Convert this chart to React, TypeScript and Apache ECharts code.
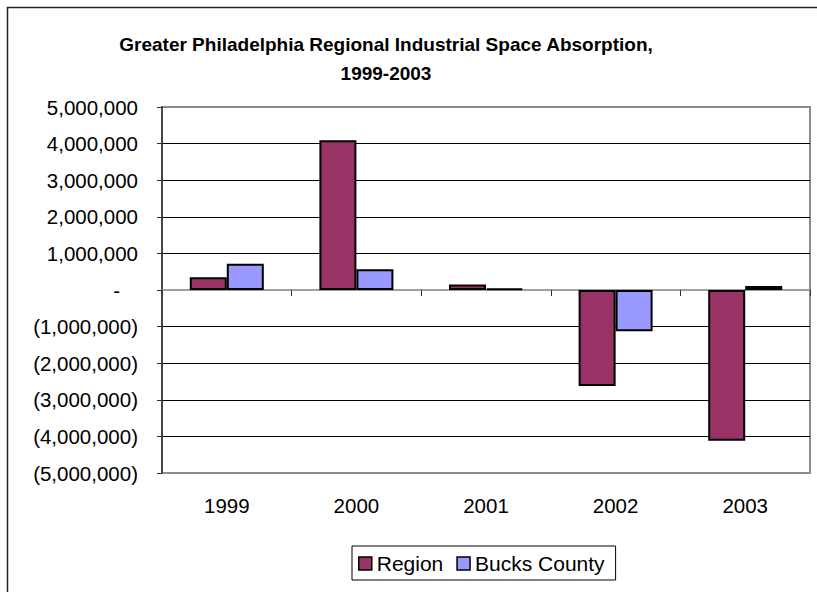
import React, { useEffect, useRef } from "react";
import * as echarts from "echarts";

const categories = ["1999", "2000", "2001", "2002", "2003"];
const regionValues = [350000, 4090000, 150000, -2620000, -4120000];
const bucksValues = [720000, 570000, 40000, -1130000, 110000];
const seriesNames = ["Region", "Bucks County"];
const titleLines = ["Greater Philadelphia Regional Industrial Space Absorption,", "1999-2003"];

const FONT = "'Liberation Sans', Arial, sans-serif";

function fmt(v: number): string {
  const s = Math.abs(v).toString().replace(/\B(?=(\d{3})+(?!\d))/g, ",");
  if (v === 0) return "{dash|-}";
  if (v < 0) return "(" + s + ")";
  return s;
}

export default function App() {
  const ref = useRef<HTMLDivElement>(null);
  useEffect(() => {
    if (!ref.current) return;
    const chart = echarts.init(ref.current, null, { renderer: "svg" });
    const gridColors = ["#8c8c8c", "#000", "#000", "#000", "#000", "transparent", "#000", "#000", "#000", "#000", "#8c8c8c"];
    chart.setOption({
      animation: false,
      backgroundColor: "#fff",
      textStyle: { fontFamily: FONT },
      title: {
        text: titleLines.join("\n"),
        left: 381,
        top: 25,
        textAlign: "center",
        textStyle: { fontSize: 19, fontWeight: "bold", color: "#000", lineHeight: 29, fontFamily: FONT },
      },
      graphic: [
        {
          type: "rect",
          shape: { x: 7.5, y: 7.5, width: 1000, height: 1000 },
          style: { fill: "none", stroke: "#222", lineWidth: 1.5 },
          silent: true,
          z: 100,
        },
      ],
      legend: {
        data: seriesNames,
        left: 352,
        top: 546,
        orient: "horizontal",
        borderColor: "#000",
        borderWidth: 1,
        padding: [7, 11, 6, 6],
        itemWidth: 13,
        itemHeight: 13,
        itemGap: 13,
        icon: "rect",
        itemStyle: { borderColor: "#000", borderWidth: 1.5 },
        textStyle: { fontSize: 21, color: "#000", fontFamily: FONT },
      },
      grid: {
        left: 162,
        right: 7,
        top: 107,
        bottom: 119,
        show: true,
        borderColor: "#8c8c8c",
        borderWidth: 2,
        backgroundColor: "#fff",
      },
      xAxis: [
        {
          type: "category",
          data: categories,
          axisLine: { onZero: true, lineStyle: { color: "#808080", width: 1.5 } },
          axisTick: { show: true, length: 6, lineStyle: { color: "#333" } },
          axisLabel: { show: false },
          splitLine: { show: false },
        },
        {
          type: "category",
          data: categories,
          position: "bottom",
          axisLine: { show: false, onZero: false },
          axisTick: { show: false },
          axisLabel: { show: true, fontSize: 20.5, color: "#000", margin: 22, fontFamily: FONT },
          splitLine: { show: false },
        },
      ],
      yAxis: {
        type: "value",
        min: -5000000,
        max: 5000000,
        interval: 1000000,
        axisLine: { show: true, lineStyle: { color: "#333", width: 1.5 } },
        axisTick: { show: true, length: 5, lineStyle: { color: "#333" } },
        axisLabel: {
          fontSize: 20.5,
          color: "#000",
          margin: 24,
          fontFamily: FONT,
          formatter: fmt,
          rich: { dash: { fontSize: 20.5, color: "#000", fontFamily: FONT, padding: [0, 18, 0, 0] } },
        },
        splitLine: { show: true, lineStyle: { color: gridColors, width: 1 } },
      },
      series: [
        {
          name: seriesNames[0],
          type: "bar",
          data: regionValues,
          barWidth: 37,
          barGap: "0%",
          itemStyle: { color: "#993366", borderColor: "#000", borderWidth: 2 },
        },
        {
          name: seriesNames[1],
          type: "bar",
          data: bucksValues,
          barWidth: 37,
          barGap: "0%",
          itemStyle: { color: "#9999FF", borderColor: "#000", borderWidth: 2 },
        },
      ],
    });
    return () => chart.dispose();
  }, []);
  return <div ref={ref} style={{ width: 817, height: 592, position: "absolute", left: 0, top: 0 }} />;
}
